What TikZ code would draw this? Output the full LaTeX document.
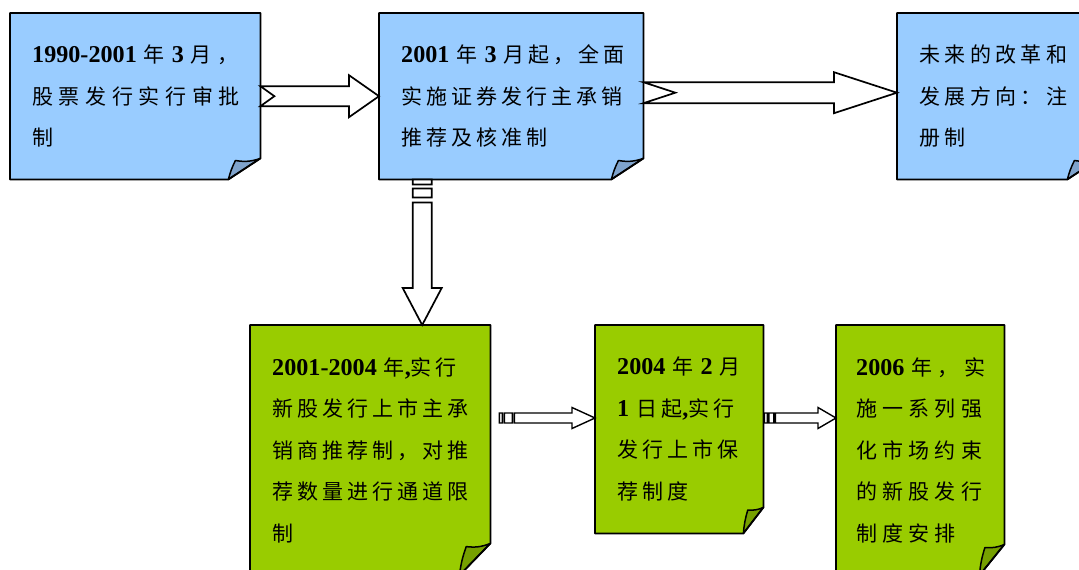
\documentclass[tikz,border=0pt]{standalone}
\usepackage{fontspec}
\setmainfont{Liberation Serif}
\newfontfamily\cjk[LetterSpace=19]{Noto Sans CJK SC}
\newfontfamily\numfont[Scale=1.15]{Liberation Serif}
\usetikzlibrary{calc,backgrounds}
\newcommand\nm[1]{{\numfont\bfseries #1}}
\definecolor{bluefill}{HTML}{99CCFF}
\definecolor{blueflap}{HTML}{7FA3CC}
\definecolor{greenfill}{HTML}{99CC00}
\definecolor{greenflap}{HTML}{76A000}
\newcommand\foldbox[5]{%
  \fill[#2] (#1.north west) -- (#1.north east) -- ([yshift=#5pt]#1.south east) -- ([xshift=-#4pt]#1.south east) -- (#1.south west) -- cycle;
  \filldraw[fill=#3, draw=black, line width=1.5pt, line join=round]
    ([xshift=-#4pt]#1.south east) to[bend left=6] ([xshift=-0.78*#4pt, yshift=0.9*#5pt]#1.south east)
    to[bend right=14] ([yshift=#5pt]#1.south east) -- cycle;
  \draw[line width=1.8pt, line join=round] (#1.north west) -- (#1.north east) -- ([yshift=#5pt]#1.south east) -- ([xshift=-#4pt]#1.south east) -- (#1.south west) -- cycle;
}
\begin{document}
\begin{tikzpicture}[x=1pt,y=-1pt,
  txtbox/.style={anchor=north west, inner xsep=22pt, inner ysep=0pt, align=left,
    font=\fontsize{21}{41.5}\selectfont\cjk},
  blockarrow/.style={fill=white, draw=black, line width=1.7pt, line join=miter}]
\useasboundingbox (0,0) rectangle (1079,570);
\begin{scope}
\clip (0,0) rectangle (1079,570);
% top row
\node[txtbox, minimum width=250pt, minimum height=166pt, text width=206pt] (b1) at (10,13)
  {\addfontfeature{LetterSpace=27}\nm{1990-2001} 年 \nm{3} 月，\\股票发行实行审批\\制};
\node[txtbox, minimum width=264pt, minimum height=166pt, text width=220pt] (b2) at (379,13)
  {\nm{2001} 年 \nm{3} 月起，全面\\实施证券发行主承销\\推荐及核准制};
\node[txtbox, minimum width=202pt, minimum height=166pt, text width=158pt] (b3) at (897,13)
  {\addfontfeature{LetterSpace=21}未来的改革和\\发展方向：注\\册制};
% bottom row
\node[txtbox, minimum width=240pt, minimum height=250pt, text width=196pt] (g1) at (250,325)
  {\nm{2001-2004} 年\nm{,}实行\\新股发行上市主承\\销商推荐制，对推\\荐数量进行通道限\\制};
\node[txtbox, minimum width=168pt, minimum height=208pt, text width=124pt] (g2) at (595,325)
  {\nm{2004} 年 \nm{2} 月\\\nm{1} 日起\nm{,}实行\\发行上市保\\荐制度};
\node[txtbox, inner xsep=20pt, minimum width=168pt, minimum height=250pt, text width=128pt] (g3) at (836,325)
  {\addfontfeature{LetterSpace=25}\nm{2006} 年，实\\施一系列强\\化市场约束\\的新股发行\\制度安排};
\begin{scope}[on background layer]
  \foldbox{b1}{bluefill}{blueflap}{32}{21}
  \foldbox{b2}{bluefill}{blueflap}{32}{21}
  \foldbox{b3}{bluefill}{blueflap}{32}{21}
  \foldbox{g1}{greenfill}{greenflap}{31}{32}
  \foldbox{g2}{greenfill}{greenflap}{20}{26}
  \foldbox{g3}{greenfill}{greenflap}{25}{31}
\end{scope}
\end{scope}
% notched arrows, top row
\draw[blockarrow] let \p1=(b1.east), \p2=(b2.west) in
  (\x1,\y1+10pt) -- (\x2-30pt,\y1+10pt) -- (\x2-30pt,\y1+21pt) -- (\x2,\y1)
  -- (\x2-30pt,\y1-21pt) -- (\x2-30pt,\y1-10pt) -- (\x1,\y1-10pt) -- (\x1+14pt,\y1) -- cycle;
\draw[blockarrow] let \p1=([yshift=3.5pt]b2.east), \p2=([yshift=3.5pt]b3.west) in
  (\x1,\y1+10.5pt) -- (\x2-63pt,\y1+10.5pt) -- (\x2-63pt,\y1+20.5pt) -- (\x2,\y1)
  -- (\x2-63pt,\y1-20.5pt) -- (\x2-63pt,\y1-10.5pt) -- (\x1,\y1-10.5pt) -- (\x1+32pt,\y1) -- cycle;
% striped down arrow
\coordinate (dtail) at ([xshift=-89pt]b2.south);
\draw[blockarrow] let \p1=(dtail), \p2=(dtail |- g1.north) in
  (\x1-9.5pt,\y1) rectangle (\x1+9.5pt,\y1-5pt)
  (\x1-9.5pt,\y1-9pt) rectangle (\x1+9.5pt,\y1-18pt)
  (\x1-9.5pt,\y1-23pt) -- (\x1-9.5pt,\y2+37pt) -- (\x1-19.5pt,\y2+37pt) -- (\x1,\y2)
  -- (\x1+19.5pt,\y2+37pt) -- (\x1+9.5pt,\y2+37pt) -- (\x1+9.5pt,\y1-23pt) -- cycle;
% striped right arrows, bottom row
\coordinate (ya) at (0,418);
\draw[blockarrow, line width=1.4pt] let \p1=(g1.east |- ya), \p2=(g2.west |- ya) in
  (\x1+9pt,\y1-5pt) rectangle (\x1+12pt,\y1+5pt)
  (\x1+14pt,\y1-5pt) rectangle (\x1+22pt,\y1+5pt)
  (\x1+24pt,\y1+5pt) -- (\x2-23pt,\y1+5pt) -- (\x2-23pt,\y1+10.5pt) -- (\x2,\y1)
  -- (\x2-23pt,\y1-10.5pt) -- (\x2-23pt,\y1-5pt) -- (\x1+24pt,\y1-5pt) -- cycle;
\draw[blockarrow, line width=1.4pt] let \p1=(g2.east |- ya), \p2=(g3.west |- ya) in
  (\x1+1pt,\y1-5pt) rectangle (\x1+4pt,\y1+5pt)
  (\x1+5.5pt,\y1-5pt) rectangle (\x1+10.5pt,\y1+5pt)
  (\x1+12pt,\y1+5pt) -- (\x2-18pt,\y1+5pt) -- (\x2-18pt,\y1+10.5pt) -- (\x2,\y1)
  -- (\x2-18pt,\y1-10.5pt) -- (\x2-18pt,\y1-5pt) -- (\x1+12pt,\y1-5pt) -- cycle;
\end{tikzpicture}
\end{document}
